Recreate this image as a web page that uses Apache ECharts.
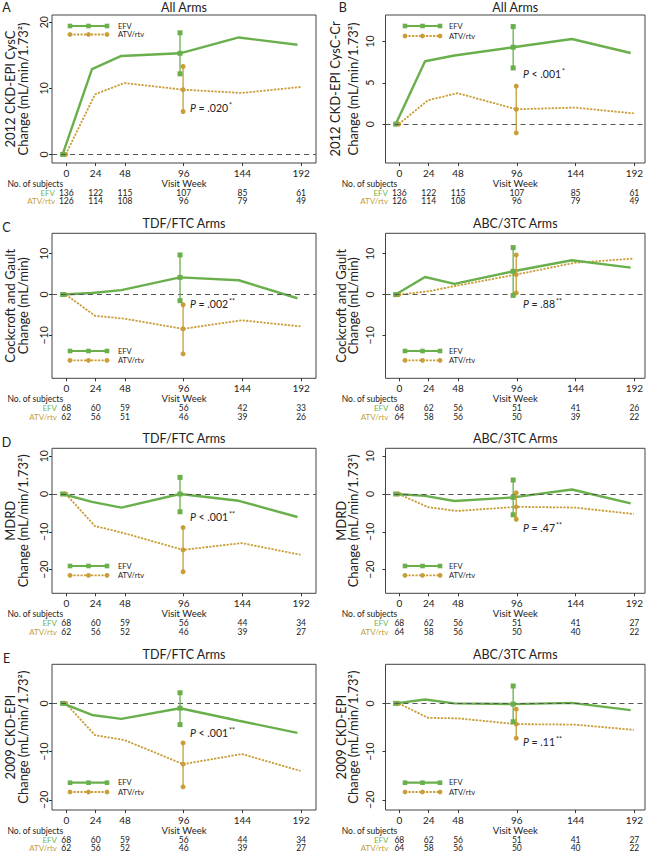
<!DOCTYPE html>
<html><head><meta charset="utf-8">
<script src="https://cdn.jsdelivr.net/npm/echarts@6/dist/echarts.min.js"></script>
<style>html,body{margin:0;padding:0;background:#fff}#c{width:651px;height:853px}</style>
</head><body><div id="c"></div>
<script>
// ---------- DATA ----------
const weeks = [0, 24, 48, 96, 144, 192];
const xTickLabels = ['0', '24', '48', '96', '144', '192'];

// A: 2012 CKD-EPI CysC, all arms
const aEfv = [0, 12.9, 14.9, 15.3, 17.7, 16.6];
const aEfvErr = [12.2, 18.4];
const aAtv = [0, 9.1, 10.8, 9.8, 9.3, 10.2];
const aAtvErr = [6.5, 13.3];
// B: 2012 CKD-EPI CysC-Cr, all arms
const bEfv = [0, 7.6, 8.3, 9.3, 10.3, 8.6];
const bEfvErr = [6.8, 11.8];
const bAtv = [0, 2.9, 3.75, 1.8, 2.0, 1.3];
const bAtvErr = [-1.05, 4.6];
// C: Cockcroft and Gault
const cTdfEfv = [0, 0.4, 1.1, 4.2, 3.5, -0.9];
const cTdfEfvErr = [-1.5, 9.7];
const cTdfAtv = [0, -5.2, -5.9, -8.4, -6.3, -7.8];
const cTdfAtvErr = [-14.5, -2.5];
const cAbcEfv = [0, 4.3, 2.6, 5.7, 8.4, 6.6];
const cAbcEfvErr = [-0.2, 11.5];
const cAbcAtv = [0, 0.8, 2.2, 4.9, 7.8, 8.8];
const cAbcAtvErr = [0.4, 9.7];
// D: MDRD
const dTdfEfv = [0, -2.1, -3.6, 0, -1.8, -6.1];
const dTdfEfvErr = [-4.7, 4.4];
const dTdfAtv = [0, -8.5, -10.4, -14.8, -13.0, -16.1];
const dTdfAtvErr = [-20.6, -8.9];
const dAbcEfv = [0, -0.5, -1.85, -0.9, 1.2, -2.5];
const dAbcEfvErr = [-5.5, 3.7];
const dAbcAtv = [0, -3.5, -4.5, -3.4, -3.6, -5.3];
const dAbcAtvErr = [-6.7, 0.3];
// E: 2009 CKD-EPI
const eTdfEfv = [0, -2.4, -3.2, -1.0, -3.6, -6.1];
const eTdfEfvErr = [-4.4, 2.2];
const eTdfAtv = [0, -6.6, -7.6, -12.6, -10.5, -14.0];
const eTdfAtvErr = [-17.3, -8.2];
const eAbcEfv = [0, 0.8, 0, -0.15, 0.1, -1.4];
const eAbcEfvErr = [-3.8, 3.6];
const eAbcAtv = [0, -3.0, -3.1, -4.3, -4.4, -5.5];
const eAbcAtvErr = [-7.2, -1.2];

// Number of subjects
const nAllEfv = [136, 122, 115, 107, 85, 61];
const nAllAtv = [126, 114, 108, 96, 79, 49];
const nCgTdfEfv = [68, 60, 59, 56, 42, 33];
const nCgTdfAtv = [62, 56, 51, 46, 39, 26];
const nCgAbcEfv = [68, 62, 56, 51, 41, 26];
const nCgAbcAtv = [64, 58, 56, 50, 39, 22];
const nTdfEfv = [68, 60, 59, 56, 44, 34];
const nTdfAtv = [62, 56, 52, 46, 39, 27];
const nAbcEfv = [68, 62, 56, 51, 41, 27];
const nAbcAtv = [64, 58, 56, 50, 40, 22];

// y-axis tick values
const yTicksA = [0, 10, 20];
const yTicksB = [0, 5, 10];
const yTicksC = [-10, 0, 10];
const yTicksD = [-20, -10, 0, 10];
const yTicksE = [-20, -10, 0];

// ---------- LAYOUT / STYLE ----------
const GREEN = '#69af4b', GOLD = '#c99d38', GREEN_T = '#6fb552', GOLD_T = '#c6a03a';
const INK = '#222';
const FONT = 'Lato';
const EFV_SHIFT = -3, ATV_SHIFT = -0.5;

const ROWS = [
  {top: 15, h: 148, lo: -1.3, hi: 21.1},
  {top: 233.3, h: 145, lo: -20.5, hi: 15.0},
  {top: 448.3, h: 145, lo: -26.3, hi: 12.1},
  {top: 664.3, h: 145.7, lo: -22.1, hi: 8.1}
];
const COLS = [
  {left: 52, width: 264, xMin: -11.7, xMax: 204.2, yMargin: 2.5, nameGap: 22.5, lh: 13, cntGap: -5, lgX1: 70, lgX2: 107, lgT: 118, nsX: 7.5},
  {left: 385.5, width: 259.5, xMin: -11.3, xMax: 200.7, yMargin: 10.5, nameGap: 26.5, lh: 12.3, cntGap: -3, lgX1: 405, lgX2: 440, lgT: 449, nsX: 341.7}
];

const panels = [
  {letter: 'A', title: 'All Arms', row: 0, col: 0, yLo: -1.3, yHi: 21.1, yTicks: yTicksA,
   yName: '2012 CKD-EPI CysC\nChange (mL/min/1.73²)', efv: aEfv, efvErr: aEfvErr, atv: aAtv, atvErr: aAtvErr,
   nEfv: nAllEfv, nAtv: nAllAtv, p: ' = .020', stars: '*', px: 190, py: 108, lgTop: [26, 34.5]},
  {letter: 'B', title: 'All Arms', row: 0, col: 1, yLo: -4.7, yHi: 13.2, yTicks: yTicksB,
   yName: '2012 CKD-EPI CysC-Cr\nChange (mL/min/1.73²)', efv: bEfv, efvErr: bEfvErr, atv: bAtv, atvErr: bAtvErr,
   nEfv: nAllEfv, nAtv: nAllAtv, p: ' < .001', stars: '*', px: 523, py: 74, lgTop: [26, 36], lh: 18.3, nameGap: 23.5},
  {letter: 'C', title: 'TDF/FTC Arms', row: 1, col: 0, yTicks: yTicksC,
   yName: 'Cockcroft and Gault\nChange (mL/min)', efv: cTdfEfv, efvErr: cTdfEfvErr, atv: cTdfAtv, atvErr: cTdfAtvErr,
   nEfv: nCgTdfEfv, nAtv: nCgTdfAtv, p: ' = .002', stars: '**', px: 190, py: 304},
  {letter: '', title: 'ABC/3TC Arms', row: 1, col: 1, yTicks: yTicksC,
   yName: 'Cockcroft and Gault\nChange (mL/min)', efv: cAbcEfv, efvErr: cAbcEfvErr, atv: cAbcAtv, atvErr: cAbcAtvErr,
   nEfv: nCgAbcEfv, nAtv: nCgAbcAtv, p: ' = .88', stars: '**', px: 523, py: 304},
  {letter: 'D', title: 'TDF/FTC Arms', row: 2, col: 0, yTicks: yTicksD,
   yName: 'MDRD\nChange (mL/min/1.73²)', efv: dTdfEfv, efvErr: dTdfEfvErr, atv: dTdfAtv, atvErr: dTdfAtvErr,
   nEfv: nTdfEfv, nAtv: nTdfAtv, p: ' < .001', stars: '**', px: 190, py: 516.7},
  {letter: '', title: 'ABC/3TC Arms', row: 2, col: 1, yTicks: yTicksD,
   yName: 'MDRD\nChange (mL/min/1.73²)', efv: dAbcEfv, efvErr: dAbcEfvErr, atv: dAbcAtv, atvErr: dAbcAtvErr,
   nEfv: nAbcEfv, nAtv: nAbcAtv, p: ' = .47', stars: '**', px: 523, py: 528.3},
  {letter: 'E', title: 'TDF/FTC Arms', row: 3, col: 0, yTicks: yTicksE,
   yName: '2009 CKD-EPI\nChange (mL/min/1.73²)', efv: eTdfEfv, efvErr: eTdfEfvErr, atv: eTdfAtv, atvErr: eTdfAtvErr,
   nEfv: nTdfEfv, nAtv: nTdfAtv, p: ' < .001', stars: '**', px: 190, py: 732.7},
  {letter: '', title: 'ABC/3TC Arms', row: 3, col: 1, yTicks: yTicksE,
   yName: '2009 CKD-EPI\nChange (mL/min/1.73²)', efv: eAbcEfv, efvErr: eAbcEfvErr, atv: eAbcAtv, atvErr: eAbcAtvErr,
   nEfv: nAbcEfv, nAtv: nAbcAtv, p: ' = .11', stars: '**', px: 523, py: 741.7}
];

// ---------- BUILD ----------
const grids = [], xAxes = [], yAxes = [], series = [], graphics = [];

function lineData(vals, shift, sym) {
  return weeks.map((w, i) => i === 0 ? {value: [w + shift, vals[i]], symbol: sym, symbolSize: 5} : [w + shift, vals[i]]);
}
function errData(vals, err, shift) {
  const w = weeks[3] + shift;
  return [[w, err[0]], [w, vals[3]], [w, err[1]]];
}
function txt(x, y, text, size, extra) {
  return Object.assign({type: 'text', x: x, y: y, silent: true,
    style: Object.assign({text: text, fontSize: size, fontFamily: FONT, fill: INK,
      align: 'center', verticalAlign: 'middle', textAlign: 'center', textVerticalAlign: 'middle'}, extra || {})});
}
function legend(x1, x2, tx, yE, yA) {
  const mid = (x1 + x2) / 2;
  const ch = [];
  ch.push({type: 'line', shape: {x1: x1, y1: yE, x2: x2, y2: yE}, style: {stroke: GREEN, lineWidth: 2.2}});
  [x1, mid, x2].forEach(x => ch.push({type: 'rect', shape: {x: x - 2.3, y: yE - 2.3, width: 4.6, height: 4.6}, style: {fill: GREEN}}));
  ch.push({type: 'line', shape: {x1: x1, y1: yA, x2: x2, y2: yA}, style: {stroke: GOLD, lineWidth: 1.8, lineDash: [2.2, 1.3]}});
  [x1, mid, x2].forEach(x => ch.push({type: 'circle', shape: {cx: x, cy: yA, r: 2.4}, style: {fill: GOLD}}));
  ch.push(txt(tx, yE, 'EFV', 7.5, {align: 'left', textAlign: 'left'}));
  ch.push(txt(tx, yA, 'ATV/rtv', 7.5, {align: 'left', textAlign: 'left'}));
  return {type: 'group', silent: true, children: ch};
}

panels.forEach((p, i) => {
  const row = ROWS[p.row], col = COLS[p.col];
  const yLo = p.yLo !== undefined ? p.yLo : row.lo;
  const yHi = p.yHi !== undefined ? p.yHi : row.hi;
  const bottom = row.top + row.h;
  grids.push({left: col.left, top: row.top, width: col.width, height: row.h, show: true,
    borderColor: '#444', borderWidth: 1, backgroundColor: 'rgba(0,0,0,0)', containLabel: false});

  const xBase = {gridIndex: i, type: 'value', position: 'bottom', min: col.xMin, max: col.xMax,
    axisLine: {show: false, onZero: false}, splitLine: {show: false}};
  xAxes.push(Object.assign({}, xBase, {
    axisTick: {show: true, length: 3, customValues: weeks, lineStyle: {color: '#333'}},
    axisLabel: {customValues: weeks, formatter: v => xTickLabels[weeks.indexOf(v)], fontSize: 10, margin: 4.5, color: INK, fontFamily: FONT},
    name: 'Visit Week', nameLocation: 'middle', nameGap: 12.5,
    nameTextStyle: {fontSize: 9.5, color: INK, fontFamily: FONT}
  }));
  [[p.nEfv, 'EFV', GREEN_T, 29.7], [p.nAtv, 'ATV/rtv', GOLD_T, 38.4]].forEach(([cnt, nm, clr, off]) => {
    xAxes.push(Object.assign({}, xBase, {
      offset: off,
      axisTick: {show: false},
      axisLabel: {customValues: weeks, formatter: v => String(cnt[weeks.indexOf(v)]), fontSize: 8.5, margin: 0,
        verticalAlign: 'middle', color: INK, fontFamily: FONT},
      name: nm, nameLocation: 'start', nameGap: col.cntGap,
      nameTextStyle: {fontSize: 8, color: clr, fontFamily: FONT, verticalAlign: 'middle'}
    }));
  });

  yAxes.push({gridIndex: i, type: 'value', min: yLo, max: yHi,
    axisLine: {show: false, onZero: false}, splitLine: {show: false},
    axisTick: {show: true, length: 3, customValues: p.yTicks, lineStyle: {color: '#333'}},
    axisLabel: {customValues: p.yTicks, rotate: 90, margin: col.yMargin, fontSize: 10.5, color: INK, fontFamily: FONT,
      formatter: v => v < 0 ? '\u2212' + Math.abs(v) : String(v)},
    name: p.yName, nameLocation: 'middle', nameGap: p.nameGap || col.nameGap,
    nameTextStyle: {fontSize: 13, lineHeight: p.lh || col.lh, color: INK, fontFamily: FONT}
  });

  const xi = i * 3;
  series.push({type: 'line', name: 'ATV/rtv', xAxisIndex: xi, yAxisIndex: i, data: lineData(p.atv, ATV_SHIFT, 'circle'),
    symbol: 'none', lineStyle: {color: GOLD, width: 1.8, type: [2.2, 1.3]}, itemStyle: {color: GOLD}, z: 3, silent: true,
    markLine: {silent: true, symbol: 'none', label: {show: false}, animation: false,
      lineStyle: {type: [5, 4], color: '#555', width: 1}, data: [{yAxis: 0}]}});
  series.push({type: 'line', name: 'EFV', xAxisIndex: xi, yAxisIndex: i, data: lineData(p.efv, EFV_SHIFT, 'rect'),
    symbol: 'none', lineStyle: {color: GREEN, width: 2.4}, itemStyle: {color: GREEN}, z: 4, silent: true});
  series.push({type: 'line', name: 'ATV/rtv err', xAxisIndex: xi, yAxisIndex: i, data: errData(p.atv, p.atvErr, ATV_SHIFT),
    symbol: 'circle', symbolSize: 5, lineStyle: {color: GOLD, width: 1.3}, itemStyle: {color: GOLD}, z: 5, silent: true});
  series.push({type: 'line', name: 'EFV err', xAxisIndex: xi, yAxisIndex: i, data: errData(p.efv, p.efvErr, EFV_SHIFT),
    symbol: 'rect', symbolSize: 5, lineStyle: {color: GREEN, width: 1.3}, itemStyle: {color: GREEN}, z: 6, silent: true});

  // annotations
  const cx = col.left + col.width / 2;
  graphics.push(txt(cx, row.top - (p.row === 0 ? 7.5 : 10), p.title, 12.5));
  if (p.letter) graphics.push(txt(p.col === 0 ? 6.5 : 342.7, row.top - (p.row === 0 ? 14 : 12.5), p.letter, 12.5,
    {verticalAlign: 'top', textVerticalAlign: 'top'}));
  graphics.push(txt(col.nsX, bottom + 20.8, 'No. of subjects', 8.5, {align: 'left', textAlign: 'left'}));
  graphics.push({type: 'text', x: p.px, y: p.py, silent: true, style: {
    text: '{i|P}{n|' + p.p + '}{s|' + p.stars + '}', fontSize: 10, fontFamily: FONT, fill: INK,
    align: 'left', verticalAlign: 'middle', textAlign: 'left', textVerticalAlign: 'middle',
    rich: {i: {fontStyle: 'italic', fontSize: 10.5, fontFamily: FONT, fill: INK},
           n: {fontSize: 10.5, fontFamily: FONT, fill: INK},
           s: {fontSize: 7, fontFamily: FONT, fill: INK, verticalAlign: 'top', padding: [0, 0, 6, 1]}}}});
  const lg = p.lgTop ? p.lgTop : [bottom - 27.3, bottom - 18];
  graphics.push(legend(col.lgX1, col.lgX2, col.lgT, lg[0], lg[1]));
});

const chart = echarts.init(document.getElementById('c'), null, {renderer: 'svg', width: 651, height: 853});
chart.setOption({
  animation: false,
  backgroundColor: '#fff',
  textStyle: {fontFamily: FONT},
  grid: grids, xAxis: xAxes, yAxis: yAxes, series: series, graphic: graphics
});
</script></body></html>
